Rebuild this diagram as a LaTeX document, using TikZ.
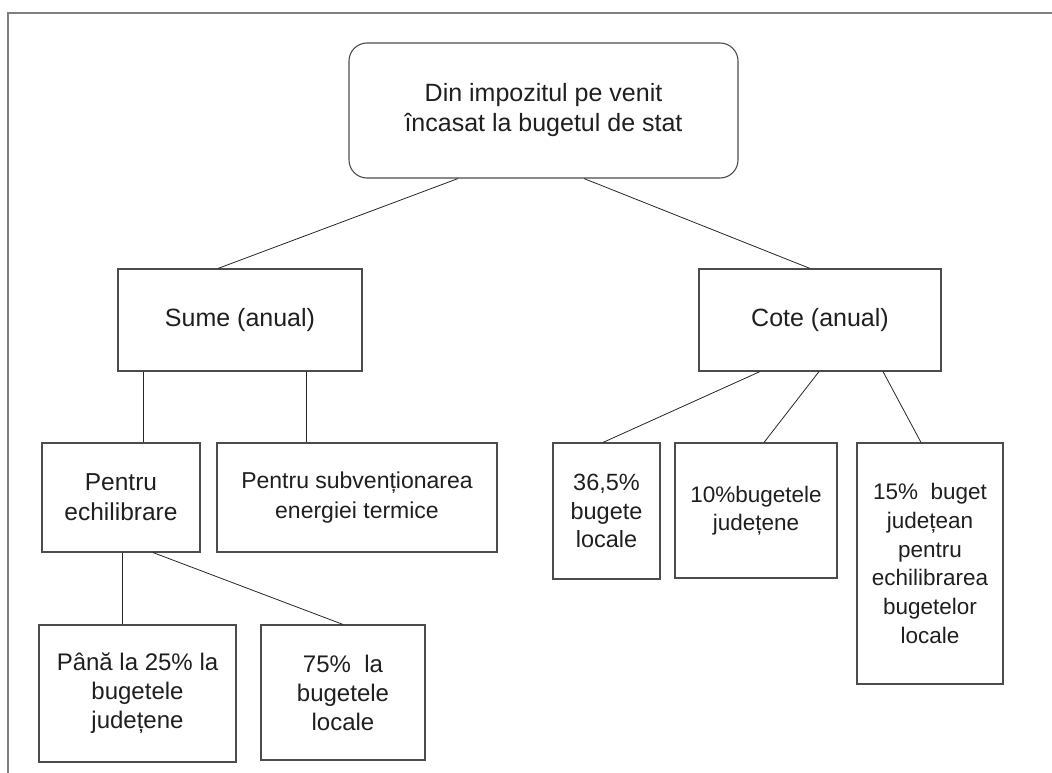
\documentclass[tikz,border=0pt]{standalone}
\usepackage{fontspec}
\setmainfont{Liberation Sans}
\begin{document}
\begin{tikzpicture}[x=1pt,y=-1pt,
  box/.style={draw=black!70, line width=1.1pt, rectangle, align=center,
    inner sep=0pt, text=black!88, font=\fontsize{24}{29}\selectfont},
  rootbox/.style={box, rounded corners=18pt, font=\fontsize{25}{30}\selectfont},
  link/.style={draw=black!85, line width=0.8pt},
  frame/.style={draw=black!50, line width=2pt}]
\useasboundingbox (0,0) rectangle (1052,773);
% outer frame: only top and left edges
\draw[frame] (8,773) -- (8,13) -- (1052,13);

% root
\node[rootbox, minimum width=389pt, minimum height=135pt] (root) at (543.5,110.5)
  {Din impozitul pe venit\\încasat la bugetul de stat};

% second level
\node[box, font=\fontsize{25}{30}\selectfont, minimum width=244pt, minimum height=102pt] (sume) at (240,320)
  {Sume (anual)};
\node[box, font=\fontsize{25}{30}\selectfont, minimum width=242pt, minimum height=102pt] (cote) at (820,320)
  {Cote (anual)};

% children of Sume
\node[box, font=\fontsize{24.5}{30}\selectfont, minimum width=158pt, minimum height=109pt] (echil) at (121,497.5)
  {Pentru\\echilibrare};
\node[box, font=\fontsize{23}{30}\selectfont, minimum width=280pt, minimum height=109pt] (subv) at (357,497.5)
  {Pentru subvenționarea\\energiei termice};

% children of Cote
\node[box, font=\fontsize{23.5}{28.5}\selectfont, minimum width=107pt, minimum height=136pt] (loc) at (606.5,511)
  {36,5\%\\bugete\\locale};
\node[box, font=\fontsize{22.5}{28}\selectfont, minimum width=162pt, minimum height=135pt] (jud) at (756,510.5)
  {10\%bugetele\\județene};
\node[box, font=\fontsize{22.5}{28.8}\selectfont, minimum width=146pt, minimum height=241pt] (echloc) at (930,563.5)
  {15\%\ \ buget\\județean\\pentru\\echilibrarea\\bugetelor\\locale};

% children of Pentru echilibrare
\node[box, minimum width=197pt, minimum height=137pt] (pana) at (137.5,693.5)
  {Până la 25\% la\\bugetele\\județene};
\node[box, minimum width=164pt, minimum height=135pt] (sapte) at (343,692.5)
  {75\%\ \ la\\bugetele\\locale};

% connectors
\draw[link] ([xshift=-85.5pt]root.south) -- ([xshift=-22pt]sume.north);
\draw[link] ([xshift=40.5pt]root.south) -- ([xshift=-10pt]cote.north);

\draw[link] ([xshift=-97pt]sume.south) -- ([xshift=22pt]echil.north);
\draw[link] ([xshift=66pt]sume.south) -- ([xshift=-51pt]subv.north);

\draw[link] ([xshift=-60pt]cote.south) -- ([xshift=-3.5pt]loc.north);
\draw[link] ([xshift=-1pt]cote.south) -- ([xshift=8pt]jud.north);
\draw[link] ([xshift=63pt]cote.south) -- ([xshift=-9pt]echloc.north);

\draw[link] ([xshift=1pt]echil.south) -- ([xshift=-15.5pt]pana.north);
\draw[link] ([xshift=32pt]echil.south) -- (sapte.north);
\end{tikzpicture}
\end{document}
